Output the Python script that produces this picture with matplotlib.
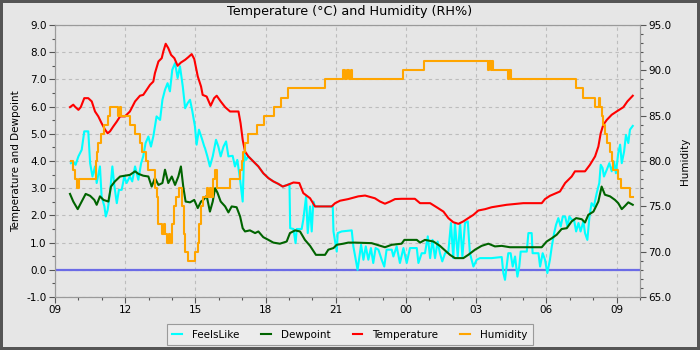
import matplotlib
matplotlib.use("Agg")
import matplotlib.pyplot as plt
from matplotlib.ticker import MultipleLocator, FuncFormatter

# hours since 09:00 on the first day
temp_t = [0.64, 0.78, 0.85, 1.0, 1.1, 1.25, 1.42, 1.57, 1.71, 1.85, 1.99, 2.14, 2.25, 2.35,
          2.49, 2.64, 2.78, 2.99, 3.2, 3.42, 3.63, 3.77, 3.92, 4.06, 4.2, 4.27, 4.42, 4.56,
          4.63, 4.73, 4.84, 4.96, 5.1, 5.24, 5.38, 5.56, 5.7, 5.84, 5.95, 6.1, 6.24, 6.31,
          6.48, 6.65, 6.8, 6.91, 7.08, 7.27, 7.48, 7.84, 7.93, 8.02, 8.12, 8.26, 8.48, 8.69,
          8.9, 9.12, 9.33, 9.54, 9.73, 9.93, 10.19, 10.44, 10.61, 10.9, 11.11, 11.47, 11.82,
          11.97, 12.18, 12.53, 12.96, 13.25, 13.67, 13.89, 14.1, 14.32, 14.53, 14.81, 15.38,
          15.6, 16.03, 16.31, 16.6, 16.81, 17.02, 17.24, 17.45, 17.66, 17.88, 18.09, 18.38,
          18.66, 18.87, 19.3, 20.01, 20.8, 20.94, 21.15, 21.58, 21.8, 22.08, 22.22, 22.65,
          22.86, 23.08, 23.22, 23.32, 23.43, 23.58, 23.79, 24.0, 24.29, 24.46, 24.69]
temp = [5.98, 6.07, 6.0, 5.88, 5.98, 6.31, 6.31, 6.19, 5.82, 5.64, 5.39, 5.15, 5.02, 5.09,
        5.27, 5.45, 5.64, 5.64, 5.82, 6.19, 6.4, 6.43, 6.62, 6.8, 6.92, 7.23, 7.66, 7.78,
        8.03, 8.31, 8.15, 7.9, 7.78, 7.5, 7.62, 7.72, 7.82, 7.93, 7.75, 7.11, 6.74, 6.43,
        6.37, 6.03, 6.31, 6.4, 6.19, 5.98, 5.82, 5.82, 5.39, 4.78, 4.35, 4.17, 3.98, 3.8,
        3.55, 3.37, 3.25, 3.16, 3.06, 3.12, 3.21, 3.19, 2.82, 2.63, 2.33, 2.33, 2.33,
        2.45, 2.54, 2.6, 2.7, 2.73, 2.63, 2.51, 2.43, 2.51, 2.6, 2.61, 2.61,
        2.45, 2.45, 2.3, 2.14, 1.9, 1.75, 1.69, 1.78, 1.9, 2.02, 2.18, 2.23,
        2.3, 2.33, 2.39, 2.45, 2.45, 2.6, 2.72, 2.88, 3.19, 3.43, 3.62, 3.62,
        3.86, 4.17, 4.53, 5.02, 5.33, 5.51, 5.7, 5.82, 5.98, 6.19, 6.4]

dew_t = [0.64, 0.78, 0.97, 1.14, 1.31, 1.5, 1.68, 1.78, 1.92, 2.07, 2.28, 2.39, 2.56, 2.78,
         2.99, 3.2, 3.42, 3.56, 3.77, 3.99, 4.13, 4.27, 4.42, 4.59, 4.7, 4.84, 4.99, 5.13,
         5.27, 5.38, 5.48, 5.58, 5.77, 5.95, 6.1, 6.24, 6.34, 6.48, 6.62, 6.74, 6.84, 6.94,
         7.08, 7.27, 7.41, 7.55, 7.76, 7.91, 8.02, 8.12, 8.33, 8.55, 8.69, 8.9, 9.12, 9.33,
         9.61, 9.9, 10.04, 10.26, 10.47, 10.68, 10.9, 11.15, 11.54, 11.68, 11.9, 12.04, 12.32,
         12.53, 12.82, 13.53, 14.1, 14.39, 14.81, 14.93, 15.46, 15.6, 15.81, 16.17, 16.45,
         16.67, 16.88, 17.09, 17.45, 17.66, 17.95, 18.23, 18.52, 18.8, 19.09, 19.44, 20.01,
         20.8, 21.01, 21.23, 21.44, 21.65, 21.87, 22.08, 22.27, 22.51, 22.65, 22.79, 23.01,
         23.22, 23.36, 23.5, 23.72, 23.93, 24.07, 24.22, 24.36, 24.5, 24.69]
dew = [2.79, 2.51, 2.23, 2.51, 2.79, 2.72, 2.57, 2.39, 2.7, 2.57, 2.51, 3.06, 3.25, 3.43,
       3.46, 3.49, 3.62, 3.53, 3.46, 3.43, 3.06, 3.37, 3.12, 3.19, 3.68, 3.19, 3.43, 3.12,
       3.43, 3.8, 3.06, 2.51, 2.48, 2.57, 2.27, 2.51, 2.57, 2.72, 2.14, 2.51, 3.0, 2.84,
       2.51, 2.33, 2.11, 2.33, 2.3, 1.96, 1.53, 1.41, 1.45, 1.35, 1.41, 1.2, 1.1, 1.0,
       0.96, 1.04, 1.35, 1.45, 1.41, 1.1, 0.88, 0.55, 0.55, 0.74, 0.8, 0.92, 0.96,
       1.0, 1.0, 0.98, 0.83, 0.92, 0.96, 1.1, 1.1, 1.0, 1.1, 1.04, 0.88,
       0.71, 0.55, 0.43, 0.43, 0.55, 0.74, 0.88, 0.96, 0.86, 0.88, 0.83, 0.83,
       0.83, 1.04, 1.16, 1.29, 1.5, 1.53, 1.78, 1.9, 1.86, 1.74, 2.02, 2.14,
       2.51, 3.06, 2.76, 2.7, 2.57, 2.45, 2.23, 2.35, 2.48, 2.39]

feels_t = [0.68, 0.78, 0.88, 1.0, 1.14, 1.25, 1.42, 1.5, 1.6, 1.71, 1.78, 1.92, 1.99, 2.11,
           2.17, 2.25, 2.35, 2.45, 2.54, 2.64, 2.73, 2.85, 2.96, 3.06, 3.2, 3.3, 3.42, 3.56,
           3.68, 3.77, 3.87, 3.99, 4.1, 4.2, 4.34, 4.49, 4.59, 4.7, 4.81, 4.91, 5.01, 5.13,
           5.24, 5.34, 5.46, 5.56, 5.67, 5.77, 5.87, 5.98, 6.05, 6.15, 6.27, 6.38, 6.41, 6.51,
           6.62, 6.74, 6.88, 6.98, 7.08, 7.2, 7.31, 7.41, 7.59, 7.69, 7.79, 7.91, 8.02, 8.08,
           8.16, 8.26, 8.48, 8.69, 8.9, 9.12, 9.33, 9.54, 9.73, 9.93, 10.02, 10.05, 10.19,
           10.28, 10.33, 10.47, 10.54, 10.61, 10.73, 10.8, 10.9, 10.97, 11.04, 11.11, 11.47,
           11.87, 11.9, 12.04, 12.08, 12.25, 12.68, 12.75, 12.85, 12.93, 12.99, 13.08, 13.18,
           13.28, 13.39, 13.5, 13.6, 13.7, 13.82, 13.96, 14.07, 14.17, 14.39, 14.46, 14.6,
           14.74, 14.89, 15.03, 15.17, 15.46, 15.53, 15.67, 15.81, 15.93, 16.03, 16.13, 16.24,
           16.35, 16.45, 16.55, 16.67, 16.81, 16.92, 17.02, 17.09, 17.21, 17.31, 17.41, 17.52,
           17.64, 17.73, 17.88, 18.02, 18.16, 18.38, 18.66, 19.09, 19.16, 19.23, 19.3, 19.37,
           19.47, 19.56, 19.66, 19.76, 19.84, 19.9, 20.16, 20.23, 20.37, 20.41, 20.66, 20.73,
           20.84, 20.94, 21.04, 21.15, 21.23, 21.33, 21.41, 21.51, 21.61, 21.7, 21.8, 21.9,
           21.98, 22.08, 22.18, 22.27, 22.37, 22.46, 22.58, 22.65, 22.75, 22.84, 22.93, 23.03,
           23.15, 23.26, 23.32, 23.4, 23.46, 23.58, 23.69, 23.79, 23.89, 23.97, 24.07, 24.15,
           24.22, 24.32, 24.4, 24.5, 24.57, 24.69]
feels = [3.92, 3.98, 3.86, 4.17, 4.41, 5.09, 5.09, 3.92, 3.43, 3.8, 3.19, 3.8, 2.7, 2.33,
         1.96, 2.2, 2.82, 3.8, 3.06, 2.45, 2.94, 2.94, 3.43, 3.19, 3.43, 3.25, 3.8, 3.31,
         3.92, 4.17, 4.66, 4.9, 4.53, 4.9, 5.64, 5.51, 6.25, 6.62, 6.86, 6.56, 7.35, 7.6,
         7.05, 7.48, 6.74, 5.94, 6.13, 6.25, 5.82, 5.27, 4.6, 5.15, 4.84, 4.53, 4.47, 4.17,
         3.8, 4.17, 4.78, 4.53, 4.17, 4.53, 4.72, 4.17, 4.19, 3.8, 4.04, 3.31, 2.51, 4.29,
         4.04, 4.17, 3.98, 3.8, 3.55, 3.37, 3.25, 3.16, 3.06, 3.12, 3.15, 1.53, 1.5,
         0.98, 1.5, 1.5, 1.5, 1.84, 2.7, 1.35, 2.33, 1.41, 2.51, 2.33, 2.33,
         2.33, 1.41, 0.67, 1.35, 1.41, 1.45, 0.86, 0.37, 0.0, 0.37, 0.92, 0.37,
         0.86, 0.37, 0.8, 0.25, 0.8, 0.74, 0.37, 0.12, 0.74, 0.74, 0.49, 0.86,
         0.25, 0.8, 0.25, 0.8, 0.8, 0.25, 0.61, 0.61, 1.23, 0.43, 1.1, 0.43,
         1.04, 0.61, 0.31, 0.61, 0.67, 1.72, 0.43, 1.72, 0.49, 1.72, 0.49, 1.72,
         1.78, 0.61, 0.12, 0.37, 0.43, 0.43, 0.43, 0.47, -0.12, -0.37, 0.12, 0.61,
         0.61, 0.12, 0.49, -0.25, 0.12, 0.67, 0.67, 1.35, 1.35, 0.61, 0.61, 0.12,
         0.61, 0.37, -0.12, 0.37, 0.86, 1.35, 1.65, 1.9, 1.59, 1.96, 1.96, 1.59,
         1.96, 1.84, 1.84, 1.41, 1.72, 1.41, 1.78, 1.35, 1.1, 1.96, 2.45, 2.33,
         2.82, 3.19, 3.86, 3.74, 3.43, 3.68, 3.92, 3.62, 3.98, 3.55, 4.29, 4.6,
         3.92, 4.35, 4.96, 4.66, 5.15, 5.29]

hum_t = [0.68, 0.78, 0.85, 0.93, 1.03, 1.74, 1.8, 1.85, 1.97, 2.11, 2.28, 2.35, 2.71, 2.76,
         2.8, 3.2, 3.42, 3.63, 3.7, 3.87, 3.99, 4.29, 4.34, 4.39, 4.42, 4.56, 4.65, 4.7, 4.77,
         4.85, 4.93, 4.99, 5.01, 5.07, 5.16, 5.3, 5.43, 5.5, 5.56, 5.67, 6.0, 6.1, 6.15, 6.24,
         6.34, 6.48, 6.55, 6.62, 6.68, 6.74, 6.84, 6.94, 7.48, 7.91, 7.98, 8.05, 8.12, 8.25,
         8.65, 8.95, 9.36, 9.64, 9.97, 11.54, 12.32, 12.4, 12.48, 12.56, 12.63, 12.68, 14.87,
         15.78, 18.52, 18.56, 18.62, 18.66, 18.73, 19.37, 19.42, 19.48, 22.26, 22.58, 23.08,
         23.25, 23.29, 23.36, 23.4, 23.5, 23.58, 23.72, 23.79, 23.86, 24.08, 24.17, 24.57,
         24.69]
hum = [80, 79, 78, 77, 78, 80, 81, 82, 83, 84, 85, 86, 85, 86,
       85, 84, 83, 82, 81, 80, 79, 77, 76, 75, 73, 72, 73, 72, 71,
       72, 71, 72, 73, 75, 76, 77, 75, 72, 70, 69, 70, 71, 73, 75,
       76, 77, 76, 77, 76, 78, 79, 77, 78, 79, 80, 81, 82, 83,
       84, 85, 86, 87, 88, 89, 90, 89, 90, 89, 90, 89, 90,
       91, 90, 91, 90, 91, 90, 89, 90, 89, 88, 87, 86,
       87, 86, 85, 84, 83, 82, 81, 80, 79, 78, 77, 76,
       76]

hour_ticks = list(range(0, 25, 3))
hour_labels = ["09", "12", "15", "18", "21", "00", "03", "06", "09"]

bg = "#e6e6e6"
grid_col = "#bdbdbd"
plt.rcParams["font.family"] = "DejaVu Sans"

fig = plt.figure(figsize=(7, 3.5), dpi=100, facecolor=bg, edgecolor="#555555", linewidth=3)
ax = fig.add_axes([0.0786, 0.1514, 0.8357, 0.7772])
ax.set_facecolor(bg)
ax2 = ax.twinx()

l1, = ax.plot(feels_t, feels, color="#00ffff", lw=1.5, label="FeelsLike")
l2, = ax.plot(dew_t, dew, color="#006400", lw=1.5, label="Dewpoint")
l3, = ax.plot(temp_t, temp, color="#ff0000", lw=1.5, label="Temperature")
l4, = ax2.plot(hum_t, hum, color="#ffa500", lw=1.5, drawstyle="steps-post", label="Humidity")
ax.axhline(0, color="#6b6be6", lw=1.6, zorder=1)

ax.set_xlim(0, 25)
ax.set_ylim(-1, 9)
ax2.set_ylim(65, 95)

ax.xaxis.set_minor_locator(MultipleLocator(1))
ax.set_xticks(hour_ticks)
ax.set_xticklabels(hour_labels)
ax.yaxis.set_major_locator(MultipleLocator(1))
ax.yaxis.set_minor_locator(MultipleLocator(0.5))
ax.yaxis.set_major_formatter(FuncFormatter(lambda v, p: f"{v:.1f}"))
ax2.yaxis.set_major_locator(MultipleLocator(5))
ax2.yaxis.set_minor_locator(MultipleLocator(1))
ax2.yaxis.set_major_formatter(FuncFormatter(lambda v, p: f"{v:.1f}"))

for a in (ax, ax2):
    a.tick_params(which="major", length=4, width=0.8, color="#555555", labelsize=7.5, pad=2)
    a.tick_params(which="minor", length=2, width=0.8, color="#555555")
    for s in a.spines.values():
        s.set_color("#9a9a9a")

ax.grid(True, which="major", color=grid_col, linestyle=(0, (3, 3)), linewidth=0.8)
ax.set_axisbelow(True)

ax.set_ylabel("Temperature and Dewpoint", fontsize=7.5, labelpad=4)
ax2.set_ylabel("Humidity", fontsize=7.5, labelpad=6)
fig.text(0.5, 0.966, "Temperature (\u00b0C) and Humidity (RH%)", ha="center", va="center", fontsize=9.2)

leg = fig.legend([l1, l2, l3, l4], ["FeelsLike", "Dewpoint", "Temperature", "Humidity"],
                 loc="lower center", bbox_to_anchor=(0.5, 0.0), ncol=4, fontsize=7.5,
                 frameon=True, fancybox=False, edgecolor="#9a9a9a", facecolor="#ececec",
                 framealpha=1, handlelength=0.9, handletextpad=1.0, columnspacing=2.1,
                 borderpad=0.5)
leg.get_frame().set_linewidth(0.8)

fig.savefig("out.png", dpi=100, facecolor=bg, edgecolor="#555555")
